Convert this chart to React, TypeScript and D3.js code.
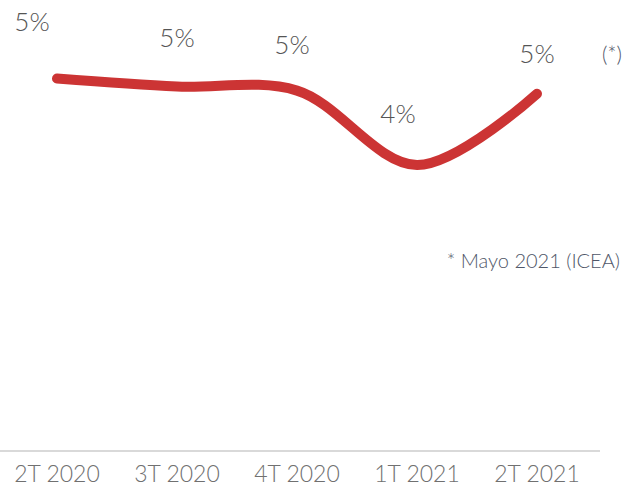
import React from "react";
import * as d3 from "d3";

const categories = ["2T 2020", "3T 2020", "4T 2020", "1T 2021", "2T 2021"];
const values = [5.48, 5.38, 5.33, 4.4, 5.29];
const valueLabels = ["5%", "5%", "5%", "4%", "5%"];
const footnoteMark = "(*)";
const footnote = "* Mayo 2021 (ICEA)";

// label nudges (layout only)
const labelDx = [-25, 0, -5, -19, 0];
const labelDy = [-48, -40, -37, -42, -31];

const W = 624;
const H = 486;
const FONT = "Lato, 'Open Sans', sans-serif";

export default function App() {
  const x = d3.scalePoint<string>().domain(categories).range([57, 537]);
  const y = d3.scaleLinear().domain([3.4, 5.6]).range([245, 69]);
  const line = d3
    .line<number>()
    .x((_, i) => x(categories[i]) as number)
    .y((d) => y(d))
    .curve(d3.curveCatmullRom.alpha(0.5));

  return (
    <svg
      width={W}
      height={H}
      style={{ position: "absolute", left: 0, top: 0, background: "#fff" }}
      fontFamily={FONT}
    >
      <line x1={0} x2={600} y1={451} y2={451} stroke="#d9d9d9" strokeWidth={2} />
      {categories.map((c) => (
        <text
          key={c}
          x={x(c)}
          y={482}
          textAnchor="middle"
          fontSize={23}
          fontWeight={300}
          fill="#707070"
        >
          {c}
        </text>
      ))}
      <path
        d={line(values) || ""}
        fill="none"
        stroke="#cc3434"
        strokeWidth={10}
        strokeLinecap="round"
        strokeLinejoin="round"
      />
      {values.map((v, i) => (
        <text
          key={i}
          x={(x(categories[i]) as number) + labelDx[i]}
          y={y(v) + labelDy[i]}
          textAnchor="middle"
          fontSize={26}
          fontWeight={300}
          fill="#555"
        >
          {valueLabels[i]}
        </text>
      ))}
      <text x={612} y={62} textAnchor="middle" fontSize={21} fontWeight={300} fill="#4f5668">
        {footnoteMark}
      </text>
      <text x={620} y={268} textAnchor="end" fontSize={20} fontWeight={300} fill="#4f5668">
        {footnote}
      </text>
    </svg>
  );
}
